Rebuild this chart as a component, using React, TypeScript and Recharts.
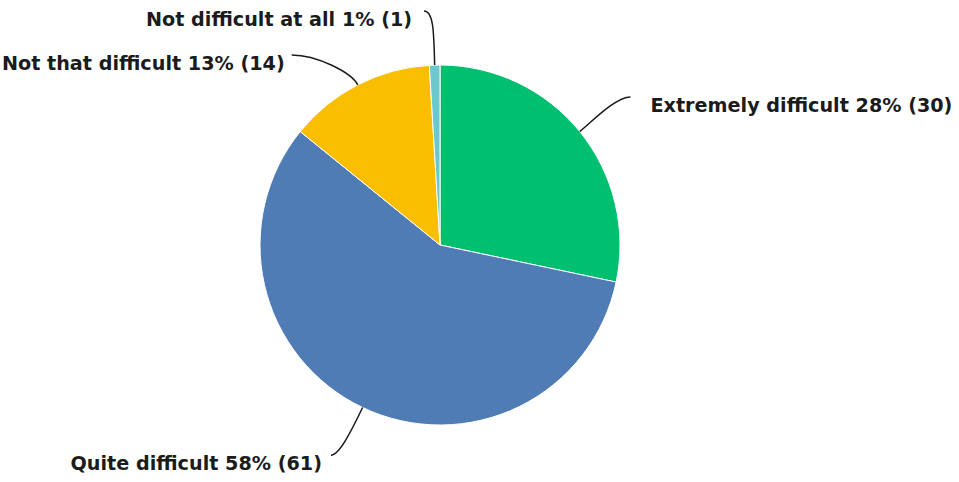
import React from 'react';
import { PieChart, Pie, Cell } from 'recharts';

const categories = ['Extremely difficult', 'Quite difficult', 'Not that difficult', 'Not difficult at all'];
const counts = [30, 61, 14, 1];
const colors = ['#00BF6F', '#507CB6', '#F9BE00', '#6BC8CD'];

const total = counts.reduce((s, v) => s + v, 0);
const data = categories.map((name, i) => ({ name, value: counts[i] }));

// label placement tweaks (leader line end offset, text gap, curve tension)
const layout = [
  { dx: 8, dy: 0, gap: 20, a: 15, b: 15 },
  { dx: -8, dy: -2, gap: 9, a: 28, b: 8 },
  { dx: -41, dy: 19, gap: 7, a: 14, b: 25 },
  { dx: -9, dy: 1, gap: 12, a: 30, b: 10 },
];

const FONT = '"DejaVu Sans", sans-serif';

const renderLabel = (props: any) => {
  const { cx, cy, midAngle, outerRadius, index, value, name } = props;
  const rad = Math.PI / 180;
  const ux = Math.cos(midAngle * rad);
  const uy = -Math.sin(midAngle * rad);
  const sx = cx + outerRadius * ux;
  const sy = cy + outerRadius * uy;
  const L = layout[index];
  const ex = cx + (outerRadius + 55) * ux + L.dx;
  const ey = cy + (outerRadius + 55) * uy + L.dy;
  const side = ex > cx ? 1 : -1;
  const c1x = sx + ux * L.a;
  const c1y = sy + uy * L.a;
  const c2x = ex - side * L.b;
  const c2y = ey;
  const pct = Math.round((value / total) * 100);
  return (
    <g key={`lbl-${index}`}>
      <path
        d={`M${sx},${sy} C${c1x},${c1y} ${c2x},${c2y} ${ex},${ey}`}
        fill="none"
        stroke="#1a1a1a"
        strokeWidth={1.5}
      />
      <text
        x={ex + side * L.gap}
        y={ey + 15}
        textAnchor={side > 0 ? 'start' : 'end'}
        fill="#1b1b1b"
        fontFamily={FONT}
        fontWeight="bold"
        fontSize={19.2}
      >
        {`${name} ${pct}% (${value})`}
      </text>
    </g>
  );
};

export default function App() {
  return (
    <div style={{ position: 'absolute', left: 0, top: 0, width: 959, height: 482, background: '#fff' }}>
      <PieChart width={959} height={482} margin={{ top: 0, right: 0, bottom: 0, left: 0 }}>
        <Pie
          data={data}
          dataKey="value"
          nameKey="name"
          cx={440}
          cy={245}
          outerRadius={180}
          startAngle={90}
          endAngle={-270}
          stroke="#ffffff"
          strokeWidth={1}
          label={renderLabel}
          labelLine={false}
          isAnimationActive={false}
        >
          {data.map((d, i) => (
            <Cell key={d.name} fill={colors[i]} />
          ))}
        </Pie>
      </PieChart>
    </div>
  );
}
